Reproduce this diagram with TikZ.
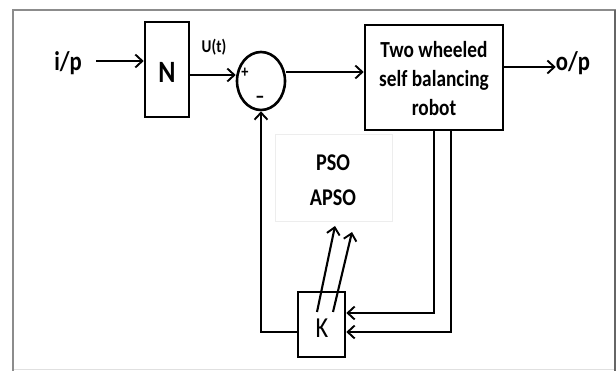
\documentclass[tikz,border=0pt]{standalone}
\usepackage{fontspec}
\setmainfont[FakeStretch=0.84]{Carlito}
\usetikzlibrary{arrows.meta,shapes.geometric}
\begin{document}
\begin{tikzpicture}[x=1pt,y=-1pt,
  blk/.style={draw,line width=2.6pt,inner sep=0pt},
  conn/.style={line width=2.1pt},
  arr/.style={conn,-{Straight Barb[length=7pt,width=13pt,line width=1.9pt]}},
  lbl/.style={inner sep=0pt,font=\bfseries}]
\useasboundingbox (0,0) rectangle (616,371);
% frame
\draw[line width=2.2pt,color=black!45] (13,371) -- (13,10) -- (616,10);
\draw[line width=2pt,color=black!60] (614.5,10) -- (614.5,371);
\draw[line width=1pt,color=black!12] (14,370) -- (614,370);
% nodes
\node[lbl,font=\bfseries\fontsize{27}{27}\selectfont] (ip) at (68,63) {i/p};
\node[blk,minimum width=44pt,minimum height=95pt] (N) at (167,69.5) {};
\node[lbl,font=\bfseries\fontsize{31}{31}\selectfont] (Nt) at (167,72) {N};
\node[lbl,font=\bfseries\fontsize{18}{18}\selectfont] (ut) at (214,47) {U(t)};
\node[draw,ellipse,line width=2.6pt,minimum width=48pt,minimum height=58pt,inner sep=0pt] (s) at (261,81) {};
\node[lbl,font=\bfseries\fontsize{17}{17}\selectfont] (plus) at (245,73) {+};
\node[lbl,font=\bfseries\fontsize{22}{22}\selectfont] (minus) at (260,100) {–};
\node[blk,minimum width=138pt,minimum height=105pt] (R) at (434,77.5) {};
\node[lbl,align=center,font=\bfseries\fontsize{23}{29}\selectfont] (Rt) at (434,79) {Two wheeled\\self balancing\\robot};
\node[lbl,font=\bfseries\fontsize{27}{27}\selectfont] (op) at (573,63) {o/p};
\node[draw=black!7,line width=1pt,minimum width=117pt,minimum height=87pt] (P) at (333.5,178.5) {};
\node[lbl,align=center,font=\bfseries\fontsize{24}{35}\selectfont] (Pt) at (333,180) {PSO\\APSO};
\node[blk,minimum width=47pt,minimum height=65pt] (K) at (321.5,324.5) {};
\node[inner sep=0pt,font=\fontsize{29}{29}\selectfont] (Kt) at (322,328) {K};
% coordinates
\coordinate (a1) at (96,61);
\coordinate (a2) at (0,75);
\coordinate (a3) at (0,72);
\coordinate (a4) at (0,67);
\coordinate (f1) at (434,313);
\coordinate (f2) at (451,332);
\coordinate (k1) at (261,332);
\coordinate (u1) at (317,312);
\coordinate (v1) at (335,226);
\coordinate (u2) at (333,312);
\coordinate (v2) at (352,232);
% connectors
\draw[arr] (a1) -- (a1 -| N.west);
\draw[arr] (N.east |- a2) -- (s.west |- a2);
\draw[arr] (s.east |- a3) -- (R.west |- a3);
\draw[arr] (R.east |- a4) -- (op.west |- a4);
\draw[arr] (f1 |- R.south) -- (f1) -- (f1 -| K.east);
\draw[arr] (f2 |- R.south) -- (f2) -- (f2 -| K.east);
\draw[arr] (K.west |- k1) -- (k1) -- (s.south);
\draw[arr] (u1) -- (v1);
\draw[arr] (u2) -- (v2);
\end{tikzpicture}
\end{document}
